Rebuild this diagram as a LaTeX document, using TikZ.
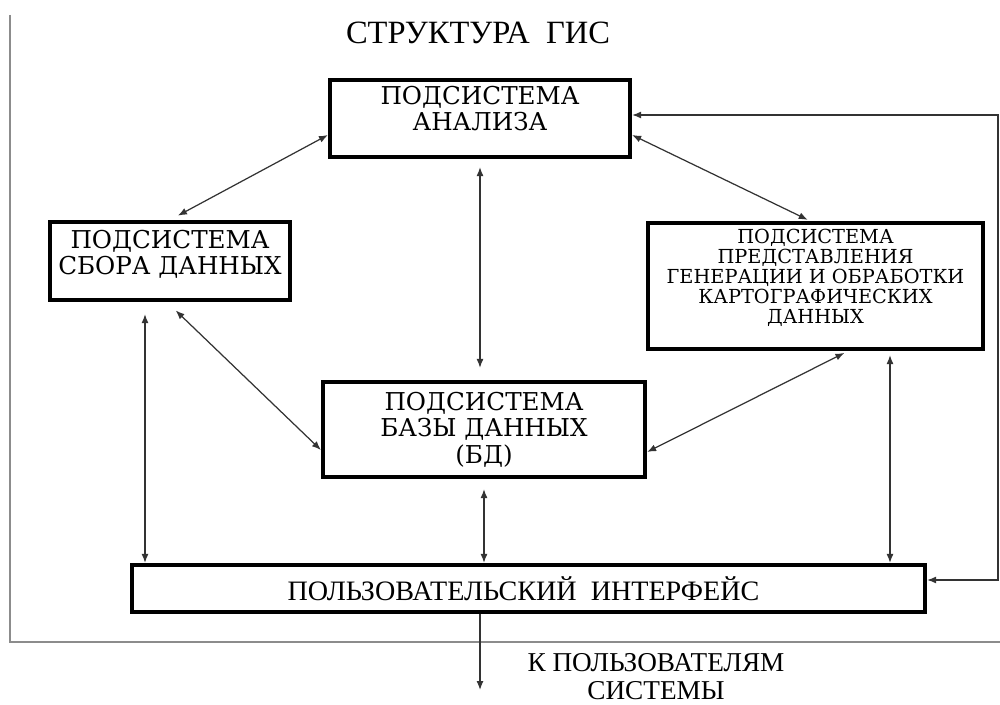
\documentclass[tikz,border=0pt]{standalone}
\usepackage{fontspec}
\setmainfont{Liberation Serif}
\newfontfamily\slabfont{DejaVu Serif}
\usetikzlibrary{arrows.meta}

\tikzset{
  subbox/.style={draw, line width=2.4pt},
  subtext/.style={align=center, inner sep=0pt, font=\slabfont\fontsize{14}{14.8}\selectfont},
  link/.style={<->, line width=0.7pt, draw=black!80},
}

\begin{document}
\begin{tikzpicture}[>={Latex[length=1.8mm,width=1.4mm]}]
    \useasboundingbox (0,0) rectangle (20,14.08);
    % outer frame
    \draw [line width=1.1pt, draw=black!45] (0.2,13.78) -- (0.2,1.24) -- (20,1.24);
    \node (title) at (9.56,13.42) {\fontsize{18.5}{22}\selectfont СТРУКТУРА\ \ ГИС};
    % subsystems
    \node [subbox, minimum width=6cm, minimum height=1.54cm] (ana) at (9.6,11.71) {};
    \node [subtext] (anaText) at ([yshift=1.9mm]ana.center) {ПОДСИСТЕМА\\АНАЛИЗА};
    \node [subbox, minimum width=4.8cm, minimum height=1.56cm] (col) at (3.4,8.86) {};
    \node [subtext] (colText) at ([yshift=1.3mm]col.center) {ПОДСИСТЕМА\\СБОРА ДАННЫХ};
    \node [subbox, minimum width=6.7cm, minimum height=2.52cm] (pres) at (16.31,8.36) {};
    \node [subtext, font=\slabfont\fontsize{11}{11.4}\selectfont] (presText) at ([yshift=1.7mm]pres.center)
        {ПОДСИСТЕМА\\ПРЕДСТАВЛЕНИЯ\\ГЕНЕРАЦИИ И ОБРАБОТКИ\\КАРТОГРАФИЧЕСКИХ\\ДАННЫХ};
    \node [subbox, minimum width=6.44cm, minimum height=1.9cm] (db) at (9.68,5.49) {};
    \node [subtext, font=\slabfont\fontsize{14}{15}\selectfont] (dbText) at (db.center) {ПОДСИСТЕМА\\БАЗЫ ДАННЫХ\\(БД)};
    \node [subbox, minimum width=15.86cm, minimum height=0.94cm] (ui) at (10.57,2.31) {};
    \node [inner sep=0pt, font=\fontsize{16}{18}\selectfont] (uiText) at ([xshift=-1mm]ui.center) {ПОЛЬЗОВАТЕЛЬСКИЙ\ \ ИНТЕРФЕЙС};
    % links
    \draw [link, shorten <=1.8mm] (col.north) -- ([yshift=-3.3mm]ana.west);
    \draw [link, shorten >=0.5mm] ([yshift=-3.3mm]ana.east) -- ([xshift=-1.1mm]pres.north);
    \draw [link, shorten <=1.6mm, shorten >=2.4mm] (ana.south) -- (ana.south |- db.north);
    \draw [link, shorten <=2.4mm] ([xshift=-5mm]col.south) -- ([xshift=-5mm]col.south |- ui.north);
    \draw [link, shorten <=2.4mm] ([xshift=-0.6mm]col.south) -- ([yshift=-4.1mm]db.west);
    \draw [link, shorten <=0.8mm] ([xshift=6.5mm]pres.south) -- ([yshift=-4.5mm]db.east);
    \draw [link, shorten <=0.8mm] ([xshift=14.9mm]pres.south) -- ([xshift=14.9mm]pres.south |- ui.north);
    \draw [link, shorten <=2mm] (db.south) -- (db.south |- ui.north);
    \coordinate (loop) at (19.96,8);
    \draw [link] ([yshift=0.7mm]ana.east) -| (loop) |- ([yshift=1.7mm]ui.east);
    % to the users
    \coordinate (out) at (9.6,0.28);
    \draw [->, line width=0.7pt, draw=black!80] (out |- ui.south) -- (out);
    \node [align=center, inner sep=0pt, font=\fontsize{15.5}{16}\selectfont] (users) at (13.12,0.55) {К ПОЛЬЗОВАТЕЛЯМ\\СИСТЕМЫ};
\end{tikzpicture}
\end{document}
